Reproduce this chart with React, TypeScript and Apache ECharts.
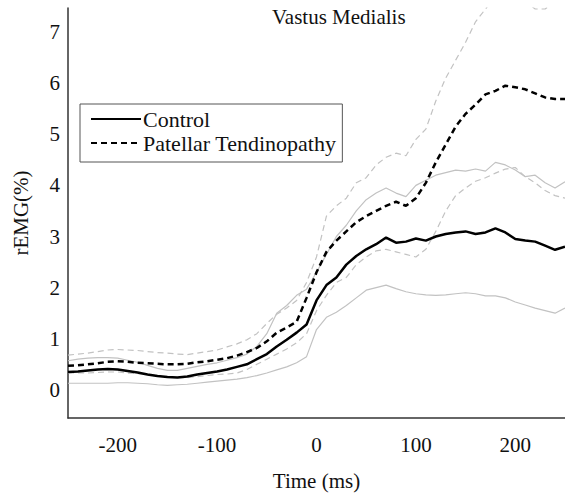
import React, { useEffect, useRef } from "react";
import * as echarts from "echarts";

const times = [
  -250, -240, -230, -220, -210, -200, -190, -180, -170, -160, -150, -140, -130, -120, -110, -100, -90, -80, -70, -60, -50, -40, -30, -20, -10,
  0, 10, 20, 30, 40, 50, 60, 70, 80, 90, 100, 110, 120, 130, 140, 150, 160, 170, 180, 190, 200, 210, 220, 230, 240, 250,
];

const controlMean = [
  0.35, 0.36, 0.38, 0.4, 0.41, 0.4, 0.37, 0.34, 0.3, 0.27, 0.25, 0.24, 0.26, 0.3, 0.33, 0.36, 0.4, 0.45, 0.5, 0.6, 0.7, 0.85, 0.98, 1.12, 1.28,
  1.75, 2.05, 2.2, 2.45, 2.62, 2.75, 2.85, 2.98, 2.88, 2.9, 2.96, 2.92, 3.0, 3.05, 3.08, 3.1, 3.05, 3.08, 3.16, 3.08, 2.95, 2.92, 2.9, 2.82, 2.74, 2.8,
];

const controlUpper = [
  0.57, 0.6, 0.62, 0.63, 0.63, 0.62, 0.58, 0.54, 0.48, 0.42, 0.38, 0.38, 0.42, 0.46, 0.5, 0.53, 0.58, 0.63, 0.7, 0.85, 1.1, 1.5, 1.65, 1.85, 1.97,
  2.3, 2.65, 3.0, 3.22, 3.5, 3.72, 3.85, 3.95, 3.85, 3.78, 4.0, 4.1, 4.2, 4.25, 4.3, 4.28, 4.32, 4.28, 4.45, 4.4, 4.3, 4.17, 4.2, 4.05, 3.95, 4.07,
];

const controlLower = [
  0.13, 0.13, 0.13, 0.13, 0.13, 0.14, 0.14, 0.13, 0.12, 0.1, 0.09, 0.1, 0.11, 0.13, 0.15, 0.17, 0.19, 0.21, 0.24, 0.28, 0.33, 0.39, 0.45, 0.53, 0.65,
  1.18, 1.42, 1.52, 1.65, 1.8, 1.95, 2.0, 2.05, 1.98, 1.92, 1.88, 1.86, 1.85, 1.86, 1.88, 1.9, 1.88, 1.84, 1.84, 1.8, 1.72, 1.66, 1.6, 1.55, 1.5, 1.6,
];

const ptMean = [
  0.47, 0.48, 0.5, 0.52, 0.55, 0.56, 0.55, 0.53, 0.52, 0.51, 0.5, 0.5, 0.51, 0.54, 0.56, 0.59, 0.62, 0.67, 0.74, 0.82, 0.95, 1.12, 1.22, 1.33, 1.8,
  2.3, 2.7, 2.92, 3.1, 3.28, 3.4, 3.5, 3.6, 3.68, 3.6, 3.75, 4.05, 4.45, 4.8, 5.15, 5.4, 5.58, 5.78, 5.85, 5.95, 5.92, 5.88, 5.8, 5.72, 5.69, 5.69,
];

const ptUpper = [
  0.68, 0.7, 0.72, 0.75, 0.78, 0.79, 0.78, 0.77, 0.75, 0.73, 0.72, 0.7, 0.69, 0.72, 0.75, 0.78, 0.84, 0.9, 0.98, 1.1, 1.3, 1.48, 1.6, 1.75, 2.1,
  2.6, 3.4, 3.6, 3.75, 4.05, 4.15, 4.4, 4.55, 4.63, 4.58, 4.9, 5.1, 5.65, 6.1, 6.45, 6.8, 7.2, 7.45, 7.7, 7.8, 7.8, 7.6, 7.45, 7.45, 7.6, 7.7,
];

const ptLower = [
  0.33, 0.33, 0.33, 0.34, 0.35, 0.35, 0.33, 0.32, 0.3, 0.27, 0.25, 0.24, 0.24, 0.26, 0.28, 0.3, 0.31, 0.33, 0.4, 0.5, 0.6, 0.7, 0.8, 0.92, 1.1,
  1.55, 1.85, 2.1, 2.2, 2.45, 2.6, 2.72, 2.75, 2.7, 2.65, 2.6, 2.75, 3.1, 3.5, 3.8, 3.95, 4.08, 4.15, 4.24, 4.32, 4.35, 4.17, 4.05, 3.9, 3.8, 3.75,
];

const xTickLabels = [-200, -100, 0, 100, 200];
const yTickLabels = [0, 1, 2, 3, 4, 5, 6, 7];

const FONT = "Liberation Serif";

const zip = (vals: number[]) => times.map((t, i) => [t, vals[i]]);

export default function App() {
  const ref = useRef<HTMLDivElement>(null);
  useEffect(() => {
    if (!ref.current) return;
    const chart = echarts.init(ref.current, null, { renderer: "svg" });
    const gray = "#c2c2c2";
    chart.setOption({
      animation: false,
      backgroundColor: "#fff",
      textStyle: { fontFamily: FONT },
      title: {
        text: "Vastus Medialis",
        left: 272,
        top: 6,
        padding: 0,
        textStyle: { fontFamily: FONT, fontSize: 21, fontWeight: "normal", color: "#111" },
      },
      legend: {
        data: ["Control", "Patellar Tendinopathy"],
        orient: "vertical",
        left: 80,
        top: 104,
        padding: [4, 6, 8, 10],
        itemGap: 2,
        itemWidth: 50,
        itemHeight: 20,
        borderColor: "#555",
        borderWidth: 1,
        borderRadius: 0,
        backgroundColor: "#fff",
        itemStyle: { opacity: 0 },
        textStyle: { fontFamily: FONT, fontSize: 22, lineHeight: 20, color: "#111", padding: [0, 0, 0, -3] },
      },
      grid: { left: 68, right: 0, top: 8, bottom: 79, containLabel: false },
      xAxis: {
        type: "value",
        min: -250,
        max: 250,
        name: "Time (ms)",
        nameLocation: "middle",
        nameGap: 52,
        nameTextStyle: { fontFamily: FONT, fontSize: 21, color: "#111" },
        axisLine: { show: true, onZero: false, lineStyle: { color: "#333", width: 1.5 } },
        axisTick: { show: false },
        splitLine: { show: false },
        axisLabel: {
          customValues: xTickLabels,
          fontFamily: FONT,
          fontSize: 21,
          color: "#111",
          margin: 16,
        },
      },
      yAxis: {
        type: "value",
        min: -0.55,
        max: 7.47,
        name: "rEMG(%)",
        nameLocation: "middle",
        nameGap: 37,
        nameRotate: 90,
        nameTextStyle: { fontFamily: FONT, fontSize: 21, color: "#111" },
        axisLine: { show: true, onZero: false, lineStyle: { color: "#333", width: 1.5 } },
        axisTick: { show: false },
        splitLine: { show: false },
        axisLabel: {
          customValues: yTickLabels,
          fontFamily: FONT,
          fontSize: 21,
          color: "#111",
          margin: 8,
        },
      },
      series: [
        {
          name: "Control SD+",
          type: "line",
          data: zip(controlUpper),
          symbol: "none",
          lineStyle: { color: gray, width: 1.2 },
          z: 1,
        },
        {
          name: "Control SD-",
          type: "line",
          data: zip(controlLower),
          symbol: "none",
          lineStyle: { color: gray, width: 1.2 },
          z: 1,
        },
        {
          name: "PT SD+",
          type: "line",
          data: zip(ptUpper),
          symbol: "none",
          lineStyle: { color: gray, width: 1.2, type: [6, 4] },
          z: 1,
        },
        {
          name: "PT SD-",
          type: "line",
          data: zip(ptLower),
          symbol: "none",
          lineStyle: { color: gray, width: 1.2, type: [6, 4] },
          z: 1,
        },
        {
          name: "Control",
          type: "line",
          data: zip(controlMean),
          symbol: "none",
          itemStyle: { color: "#000" },
          lineStyle: { color: "#000", width: 2.5 },
          z: 3,
        },
        {
          name: "Patellar Tendinopathy",
          type: "line",
          data: zip(ptMean),
          symbol: "none",
          itemStyle: { color: "#000" },
          lineStyle: { color: "#000", width: 2.5, type: [6, 4] },
          z: 3,
        },
      ],
    });
    return () => chart.dispose();
  }, []);
  return <div ref={ref} style={{ width: 565, height: 497, position: "absolute", left: 0, top: 0 }} />;
}
